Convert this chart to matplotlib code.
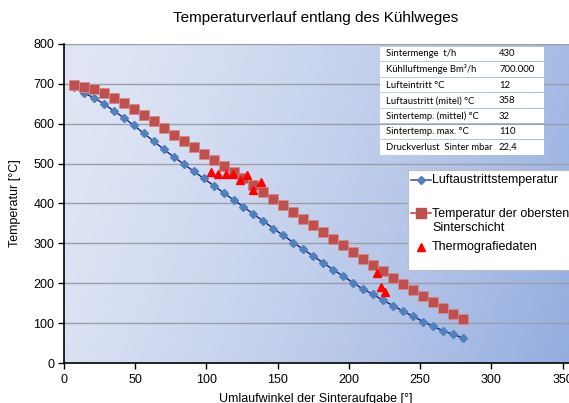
import numpy as np
import matplotlib
matplotlib.use("Agg")
import matplotlib.pyplot as plt
from matplotlib.patches import Rectangle
from matplotlib.lines import Line2D

plt.rcParams['font.family'] = ['Liberation Sans', 'DejaVu Sans']

# ---------------- data ----------------
angle = [7, 14, 21, 28, 35, 42, 49, 56, 63, 70, 77, 84, 91, 98, 105, 112, 119, 126,
         133, 140, 147, 154, 161, 168, 175, 182, 189, 196, 203, 210, 217, 224, 231,
         238, 245, 252, 259, 266, 273, 280]
luftaustritt = [692, 677, 665, 650, 632, 615, 596, 576, 556, 536, 517, 499, 481, 463,
                445, 427, 409, 392, 373, 356, 337, 320, 302, 285, 268, 251, 234, 218,
                201, 185, 172, 157, 144, 130, 117, 104, 92, 81, 72, 63]
sinterschicht = [698, 693, 686, 676, 665, 652, 638, 623, 607, 590, 571, 556, 541, 525,
                 510, 495, 480, 463, 446, 429, 411, 396, 379, 362, 346, 329, 311, 296,
                 279, 262, 246, 231, 214, 198, 182, 167, 152, 137, 124, 110]
thermo_x = [103.5, 108.2, 113.4, 118.5, 123.4, 128.4, 133.0, 138.3, 219.7, 222.3, 225.6]
thermo_y = [480, 474, 474, 475, 459, 471, 433, 454, 226, 191, 177]

series_names = ["Luftaustrittstemperatur", "Temperatur der obersten\nSinterschicht",
                "Thermografiedaten"]
table_labels = ["Sintermenge  t/h", "Kühlluftmenge Bm³/h", "Lufteintritt °C",
                "Luftaustritt (mitel) °C", "Sintertemp. (mittel) °C",
                "Sintertemp. max. °C", "Druckverlust  Sinter mbar"]
table_values = ["430", "700.000", "12", "358", "32", "110", "22,4"]
x_ticks = [0, 50, 100, 150, 200, 250, 300, 350]
y_ticks = [0, 100, 200, 300, 400, 500, 600, 700, 800]

title = "Temperaturverlauf entlang des Kühlweges"
xlabel = "Umlaufwinkel der Sinteraufgabe [°]"
ylabel = "Temperatur [°C]"

# ---------------- figure ----------------
W, H = 569, 403
fig = plt.figure(figsize=(W / 100, H / 100), dpi=100)
fig.patch.set_facecolor('white')

ax_l, ax_r, ax_t, ax_b = 64, 569, 44, 363
ax = fig.add_axes([ax_l / W, 1 - ax_b / H, (ax_r - ax_l) / W, (ax_b - ax_t) / H])
ax.set_xlim(0, 354.5)
ax.set_ylim(0, 800)

# gradient background
nx, ny = 300, 200
gx = np.linspace(0, 1, nx)[None, :]
gy = np.linspace(1, 0, ny)[:, None]  # top row = top
u = np.clip(0.82 * gx + 0.18 * (1 - gy), 0, 1) ** 1.4
light = np.array([0.878, 0.902, 0.961])
dark = np.array([0.580, 0.678, 0.875])
img = light[None, None, :] * (1 - u[..., None]) + dark[None, None, :] * u[..., None]
ax.imshow(img, extent=[0, 1, 0, 1], transform=ax.transAxes, aspect='auto', zorder=0)

ax.set_facecolor('none')
for yv in y_ticks[1:]:
    ax.axhline(yv, color='#9a9ea8', lw=1.0, zorder=1)

ax.plot(angle, luftaustritt, color='#1f237a', lw=1.0, marker='D', ms=4.3,
        mfc='#4f81bd', mec='#4f81bd', zorder=3)
ax.plot(angle, sinterschicht, color='#c0504d', lw=1.0, marker='s', ms=6.6,
        mfc='#c0504d', mec='#d38b89', mew=0.6, zorder=4)
ax.plot(thermo_x, thermo_y, ls='none', marker='^', ms=6.0, mfc='#ff0000',
        mec='#ff0000', zorder=5)

ax.set_xticks(x_ticks)
ax.set_yticks(y_ticks)
ax.tick_params(axis='both', labelsize=9, length=4, width=1, color='black', direction='out')
ax.tick_params(axis='x', pad=4)
ax.tick_params(axis='y', pad=3)
for s in ['top', 'right']:
    ax.spines[s].set_visible(False)
for s in ['left', 'bottom']:
    ax.spines[s].set_color('black')
    ax.spines[s].set_linewidth(1.2)

# ---------------- overlay (pixel coords) ----------------
ov = fig.add_axes([0, 0, 1, 1], zorder=10)
ov.set_xlim(0, W)
ov.set_ylim(H, 0)
ov.axis('off')

ov.text(316, 18, title, ha='center', va='center', fontsize=11, color='black')
ov.text(316, 393, xlabel, ha='center', va='top', fontsize=9, color='black')
ov.text(15, (ax_t + ax_b) / 2, ylabel, ha='center', va='center', rotation=90,
        fontsize=9, color='black')

# table
t_left, t_right, t_top, row_h, gap = 380, 544, 46, 15.6, 1.2
for i, (lab, val) in enumerate(zip(table_labels, table_values)):
    y0 = t_top + i * row_h
    ov.add_patch(Rectangle((t_left, y0 + gap / 2), t_right - t_left, row_h - gap,
                           facecolor='white', edgecolor='none'))
    yc = y0 + row_h / 2
    ov.text(386, yc, lab, ha='left', va='center', fontsize=6.8, family=['Lato', 'DejaVu Sans'])
    ov.text(499, yc, val, ha='left', va='center', fontsize=6.8, family=['Lato', 'DejaVu Sans'])

# legend
ov.add_patch(Rectangle((408, 170), 200, 100, facecolor='white', edgecolor='#bfbfbf', lw=0.8))
ov.add_line(Line2D([411, 431], [180, 180], color='#4a5aa8', lw=1.2))
ov.plot([421], [180], marker='D', ms=4.3, mfc='#4f81bd', mec='#4f81bd')
ov.text(432, 180, series_names[0], ha='left', va='center', fontsize=9)
ov.add_line(Line2D([411, 431], [213, 213], color='#c0504d', lw=1.2))
ov.plot([421], [213], marker='s', ms=6.6, mfc='#c0504d', mec='#c0504d')
ov.text(432, 221, series_names[1], ha='left', va='center', fontsize=9, linespacing=1.25)
ov.plot([421], [247], marker='^', ms=6.0, mfc='#ff0000', mec='#ff0000')
ov.text(432, 247, series_names[2], ha='left', va='center', fontsize=9)

fig.savefig("out.png", dpi=100)
